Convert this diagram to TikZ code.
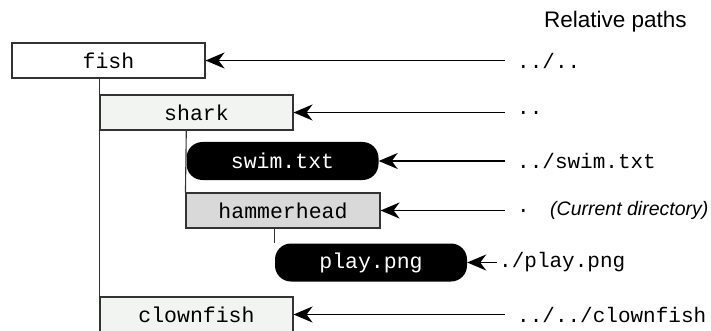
\documentclass[tikz,border=0pt]{standalone}
\usepackage{fontspec}
\setmainfont{Liberation Sans}
\setmonofont{Liberation Mono}
\usetikzlibrary{arrows.meta, positioning}
\definecolor{lightfill}{HTML}{F2F4F2}
\definecolor{midfill}{HTML}{D9D9D9}
\definecolor{edgegray}{HTML}{333333}
\tikzset{
    dirbox/.style={
        draw=edgegray,
        line width=1.1pt,
        minimum width=193pt,
        minimum height=35pt,
        inner sep=0pt,
        font=\ttfamily\fontsize{21.5}{24}\selectfont
    },
    filebox/.style={
        fill=black,
        text=white,
        rounded corners=16pt,
        minimum width=192pt,
        minimum height=38pt,
        inner sep=0pt,
        font=\ttfamily\fontsize{21.5}{24}\selectfont
    },
    pathlabel/.style={anchor=west, inner sep=0pt, font=\ttfamily\fontsize{21}{24}\selectfont},
    line/.style={-{Stealth[length=19pt,width=16pt,inset=6pt]}, line width=1.7pt},
    treeline/.style={draw=edgegray, line width=1.1pt},
    note/.style={font=\fontsize{19.5}{23}\selectfont}
}
\begin{document}
\begin{tikzpicture}[x=1pt,y=-1pt]
\useasboundingbox (0,0) rectangle (711,331);

% Directory tree
\node[dirbox, fill=white] (fish) at (108.5,60.5) {fish};
\node[dirbox, fill=lightfill] (shark) at (196.5,112.5) {shark};
\node[filebox] (swim) at (282.5,161) {swim.txt};
\node[dirbox, fill=midfill, minimum width=194pt] (hammer) at (283,210.5) {hammerhead};
\node[filebox] (play) at (371,262.5) {play.png};
\node[dirbox, fill=lightfill] (clown) at (196.5,314.5) {clownfish};

\draw[treeline] (shark.west |- fish.south) -- (clown.north west);
\draw[treeline] (swim.west |- shark.south) -- (hammer.north west);
\draw[treeline] (play.west |- hammer.south) -- (play.north west);

% Relative paths
\node[font=\fontsize{22.5}{26}\selectfont, anchor=base west, inner sep=0pt] (title) at (544,28) {Relative paths};

\node[pathlabel] (pfish) at (517,60.5) {../..};
\node[pathlabel] (pshark) at (517,112.5) {..};
\node[pathlabel] (pswim) at (517,161) {../swim.txt};
\node[pathlabel] (phammer) at (517,210.5) {.};
\node[note, anchor=west, inner sep=0pt] (current) at (550,210.5) {\itshape (Current directory)};
\node[pathlabel] (pplay) at (499,262.5) {./play.png};
\node[pathlabel] (pclown) at (517,314.5) {../../clownfish};

\draw[line] ([xshift=-12pt]pfish.west) -- (fish.east);
\draw[line] ([xshift=-12pt]pshark.west) -- (shark.east);
\draw[line] ([xshift=-12pt]pswim.west) -- (swim.east);
\draw[line] ([xshift=-12pt]phammer.west) -- (hammer.east);
\draw[line] ([xshift=-2pt]pplay.west) -- (play.east);
\draw[line] ([xshift=-12pt]pclown.west) -- (clown.east);
\end{tikzpicture}
\end{document}
